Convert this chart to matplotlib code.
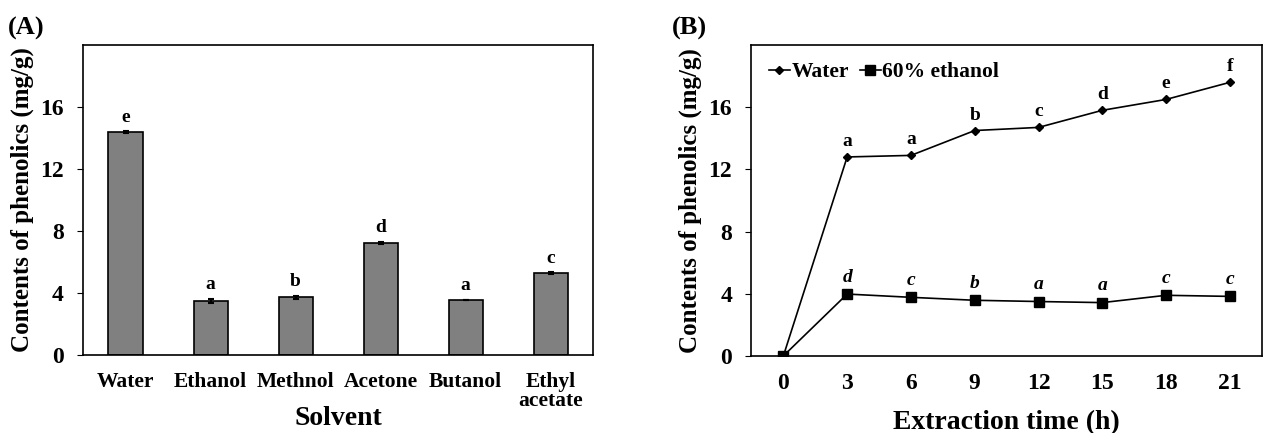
import matplotlib.pyplot as plt
import numpy as np

plt.rcParams['font.family'] = ['Liberation Serif', 'DejaVu Serif']
plt.rcParams['font.weight'] = 'bold'

# (A) solvent comparison
solvents = ["Water", "Ethanol", "Methnol", "Acetone", "Butanol", "Ethyl\nacetate"]
solvent_values = [14.4, 3.5, 3.72, 7.25, 3.55, 5.27]
solvent_errors = [0.05, 0.12, 0.1, 0.07, 0.03, 0.06]
solvent_letters = ["e", "a", "b", "d", "a", "c"]

# (B) extraction time
hours = [0, 3, 6, 9, 12, 15, 18, 21]
water_values = [0, 12.8, 12.9, 14.5, 14.7, 15.8, 16.5, 17.6]
ethanol_values = [0, 3.98, 3.77, 3.58, 3.5, 3.43, 3.9, 3.83]
water_letters = ["", "a", "a", "b", "c", "d", "e", "f"]
ethanol_letters = ["", "d", "c", "b", "a", "a", "c", "c"]

fig = plt.figure(figsize=(12.63, 4.33), dpi=100)
ax1 = fig.add_axes([0.0657, 0.180, 0.404, 0.716])
ax2 = fig.add_axes([0.595, 0.178, 0.404, 0.718])

x = np.arange(len(solvents))
ax1.bar(x, solvent_values, width=0.4, color="#808080", edgecolor="black", linewidth=1.2,
        yerr=solvent_errors, error_kw=dict(ecolor="black", elinewidth=1.5, capsize=2, capthick=1.5))
for xi, v, e, lab in zip(x, solvent_values, solvent_errors, solvent_letters):
    ax1.annotate(lab, (xi, v + e), xytext=(0, 4), textcoords="offset points",
                 ha="center", va="bottom", fontsize=14, fontweight="bold")
ax1.set_xlim(-0.5, 5.5)
ax1.set_ylim(0, 20)
ax1.set_yticks([0, 4, 8, 12, 16])
ax1.set_xticks(x)
ax1.set_xticklabels(solvents, fontsize=15.5, fontweight="bold", linespacing=0.95)
ax1.tick_params(axis="x", length=0, pad=12)
ax1.tick_params(axis="y", labelsize=17, direction="out", length=4, pad=10)
ax1.set_xlabel("Solvent", fontsize=20, fontweight="bold")
ax1.xaxis.set_label_coords(0.5, -0.205)
ax1.xaxis.label.set_va("center")
ax1.set_ylabel("Contents of phenolics (mg/g)", fontsize=18, fontweight="bold")
ax1.yaxis.set_label_coords(-0.118, 0.5)
ax1.yaxis.label.set_va("center")
for s in ax1.spines.values():
    s.set_linewidth(1.2)

ax2.plot(hours, water_values, color="black", marker="D", markersize=4.5, linewidth=1.2, label="Water")
ax2.plot(hours, ethanol_values, color="black", marker="s", markersize=6.5, linewidth=1.2, label="60% ethanol")
for h, v, lab in zip(hours, water_values, water_letters):
    if lab:
        ax2.annotate(lab, (h, v), xytext=(0, 5), textcoords="offset points",
                     ha="center", va="bottom", fontsize=14, fontweight="bold")
for h, v, lab in zip(hours, ethanol_values, ethanol_letters):
    if lab:
        ax2.annotate(lab, (h, v), xytext=(0, 6), textcoords="offset points",
                     ha="center", va="bottom", fontsize=14, fontweight="bold", style="italic")
ax2.set_xlim(-1.5, 22.5)
ax2.set_ylim(0, 20)
ax2.set_xticks(hours)
ax2.set_yticks([0, 4, 8, 12, 16])
ax2.tick_params(axis="x", length=0, pad=12, labelsize=17)
ax2.tick_params(axis="y", labelsize=17, direction="out", length=4, pad=10)
ax2.set_xlabel("Extraction time (h)", fontsize=20, fontweight="bold", labelpad=12)
ax2.set_ylabel("Contents of phenolics (mg/g)", fontsize=18, fontweight="bold")
ax2.yaxis.set_label_coords(-0.119, 0.5)
ax2.yaxis.label.set_va("center")
for s in ax2.spines.values():
    s.set_linewidth(1.2)
ax2.legend(loc="upper left", ncol=2, frameon=False, handlelength=1.0,
           handletextpad=0.05, columnspacing=0.5, borderaxespad=0.4,
           prop=dict(weight="bold", size=15.5))

fig.text(0.006, 0.92, "(A)", fontsize=19, fontweight="bold")
fig.text(0.532, 0.92, "(B)", fontsize=19, fontweight="bold")

fig.savefig("out.png", dpi=100)
